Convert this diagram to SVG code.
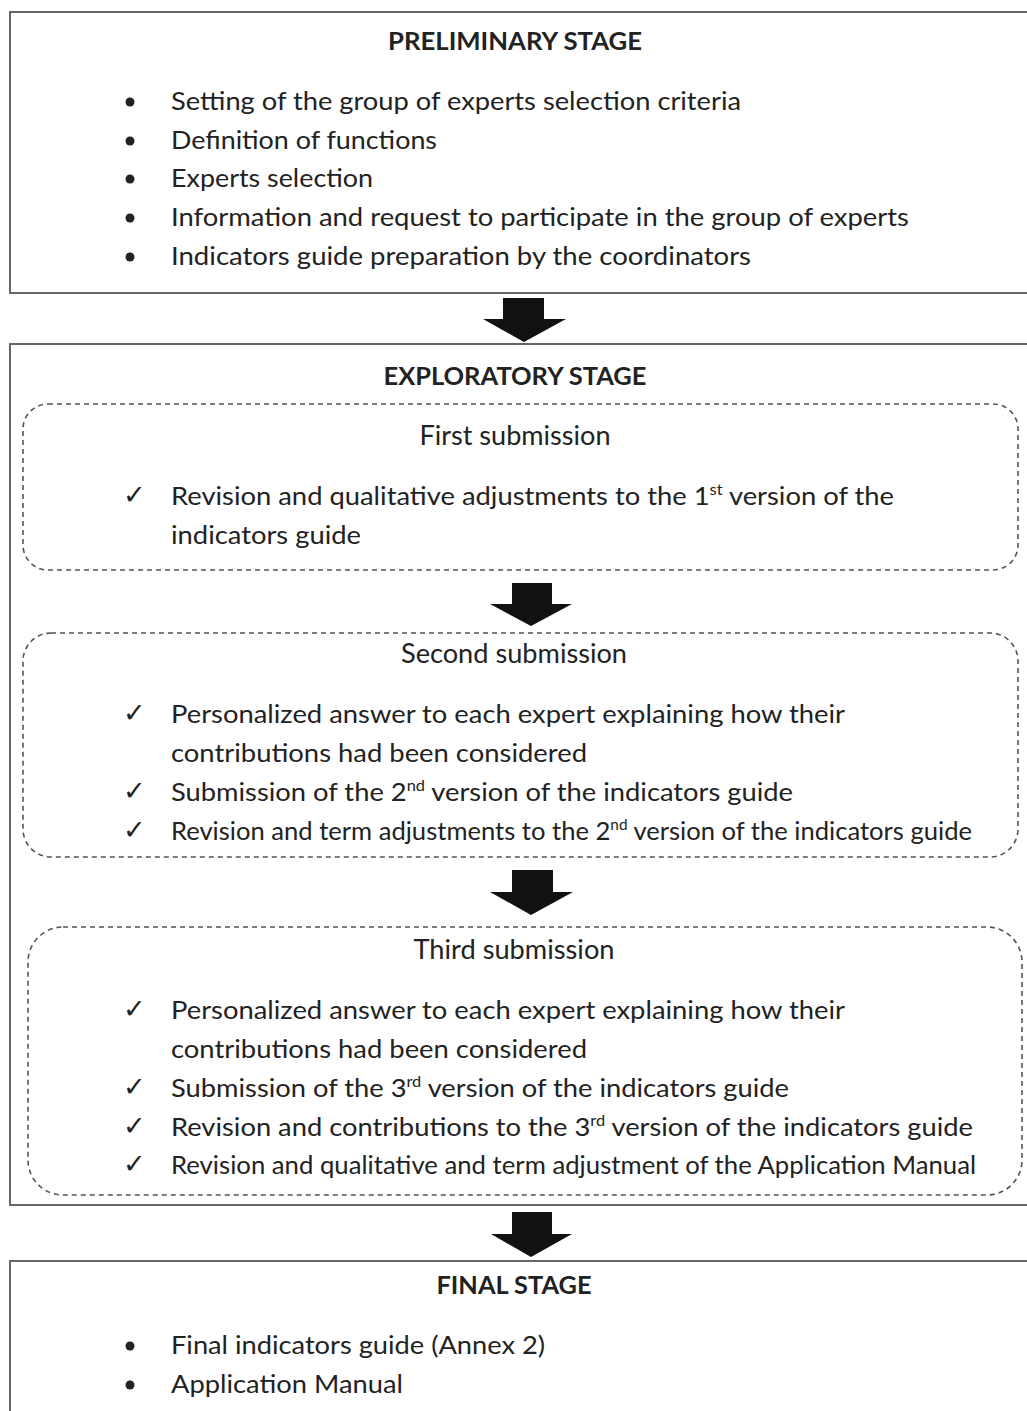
<svg xmlns="http://www.w3.org/2000/svg" width="1027" height="1411" viewBox="0 0 1027 1411">
<style>
.box{fill:#fff;stroke:#666;stroke-width:2}
.dash{fill:none;stroke:#555;stroke-width:1.6;stroke-dasharray:5,4}
.arrow{fill:#111}
text{font-family:Lato,"Liberation Sans",sans-serif;font-size:25px;fill:#222}
.title{font-weight:bold;text-anchor:middle}
.sub{text-anchor:middle;font-size:26px}
.sup{font-size:15px}
.chk{font-size:27px}
</style>
<rect width="1027" height="1411" fill="#fff"/>
<g id="preliminary">
<rect class="box" x="10" y="12" width="1030" height="281"/>
<text class="title" x="515" y="50" textLength="254" lengthAdjust="spacingAndGlyphs">PRELIMINARY STAGE</text>
<g fill="#222"><circle cx="130" cy="102" r="4.5"/><circle cx="130" cy="141" r="4.5"/><circle cx="130" cy="179" r="4.5"/><circle cx="130" cy="218" r="4.5"/><circle cx="130" cy="257" r="4.5"/></g>
<text x="171" y="110" textLength="570" lengthAdjust="spacingAndGlyphs">Setting of the group of experts selection criteria</text>
<text x="171" y="149" textLength="266" lengthAdjust="spacingAndGlyphs">Definition of functions</text>
<text x="171" y="187" textLength="202" lengthAdjust="spacingAndGlyphs">Experts selection</text>
<text x="171" y="226" textLength="738" lengthAdjust="spacingAndGlyphs">Information and request to participate in the group of experts</text>
<text x="171" y="265" textLength="580" lengthAdjust="spacingAndGlyphs">Indicators guide preparation by the coordinators</text>
</g>
<g id="exploratory">
<rect class="box" x="10" y="344" width="1030" height="861"/>
<text class="title" x="515" y="385" textLength="263" lengthAdjust="spacingAndGlyphs">EXPLORATORY STAGE</text>
</g>
<g id="first-submission">
<rect class="dash" x="23" y="404" width="995" height="166" rx="25" ry="25"/>
<text class="sub" x="515" y="445" textLength="191" lengthAdjust="spacingAndGlyphs">First submission</text>
<text class="chk" x="123" y="504">✓</text>
<text x="171" y="505" textLength="723" lengthAdjust="spacingAndGlyphs">Revision and qualitative adjustments to the 1<tspan class="sup" dy="-10">st</tspan><tspan dy="10"> version of the</tspan></text>
<text x="171" y="544" textLength="190" lengthAdjust="spacingAndGlyphs">indicators guide</text>
</g>
<g id="second-submission">
<rect class="dash" x="23" y="633" width="995" height="224" rx="28" ry="28"/>
<text class="sub" x="514" y="663" textLength="226" lengthAdjust="spacingAndGlyphs">Second submission</text>
<text class="chk" x="123" y="722">✓</text>
<text class="chk" x="123" y="800">✓</text>
<text class="chk" x="123" y="839">✓</text>
<text x="171" y="723" textLength="674" lengthAdjust="spacingAndGlyphs">Personalized answer to each expert explaining how their</text>
<text x="171" y="762" textLength="416" lengthAdjust="spacingAndGlyphs">contributions had been considered</text>
<text x="171" y="801" textLength="622" lengthAdjust="spacingAndGlyphs">Submission of the 2<tspan class="sup" dy="-10">nd</tspan><tspan dy="10"> version of the indicators guide</tspan></text>
<text x="171" y="840" textLength="801" lengthAdjust="spacingAndGlyphs">Revision and term adjustments to the 2<tspan class="sup" dy="-10">nd</tspan><tspan dy="10"> version of the indicators guide</tspan></text>
</g>
<g id="third-submission">
<rect class="dash" x="28" y="927" width="994" height="268" rx="35" ry="35"/>
<text class="sub" x="514" y="959" textLength="201" lengthAdjust="spacingAndGlyphs">Third submission</text>
<text class="chk" x="123" y="1018">✓</text>
<text class="chk" x="123" y="1096">✓</text>
<text class="chk" x="123" y="1135">✓</text>
<text class="chk" x="123" y="1173">✓</text>
<text x="171" y="1019" textLength="674" lengthAdjust="spacingAndGlyphs">Personalized answer to each expert explaining how their</text>
<text x="171" y="1058" textLength="416" lengthAdjust="spacingAndGlyphs">contributions had been considered</text>
<text x="171" y="1097" textLength="618" lengthAdjust="spacingAndGlyphs">Submission of the 3<tspan class="sup" dy="-10">rd</tspan><tspan dy="10"> version of the indicators guide</tspan></text>
<text x="171" y="1136" textLength="802" lengthAdjust="spacingAndGlyphs">Revision and contributions to the 3<tspan class="sup" dy="-10">rd</tspan><tspan dy="10"> version of the indicators guide</tspan></text>
<text x="171" y="1174" textLength="805" lengthAdjust="spacingAndGlyphs">Revision and qualitative and term adjustment of the Application Manual</text>
</g>
<g id="final">
<rect class="box" x="10" y="1261" width="1030" height="200"/>
<text class="title" x="514" y="1294" textLength="155" lengthAdjust="spacingAndGlyphs">FINAL STAGE</text>
<g fill="#222"><circle cx="130" cy="1346" r="4.5"/><circle cx="130" cy="1385" r="4.5"/></g>
<text x="171" y="1354" textLength="374" lengthAdjust="spacingAndGlyphs">Final indicators guide (Annex 2)</text>
<text x="171" y="1393" textLength="232" lengthAdjust="spacingAndGlyphs">Application Manual</text>
</g>
<g id="connectors">
<polygon class="arrow" points="503,298 544,298 544,319 566,319 524,342 483,319 503,319"/>
<polygon class="arrow" points="512,583 552,583 552,604 572,604 531,626 490,604 512,604"/>
<polygon class="arrow" points="512,870 553,870 553,892 573,892 531,915 490,892 512,892"/>
<polygon class="arrow" points="512,1212 552,1212 552,1234 572,1234 531,1257 491,1234 512,1234"/>
</g>
</svg>
